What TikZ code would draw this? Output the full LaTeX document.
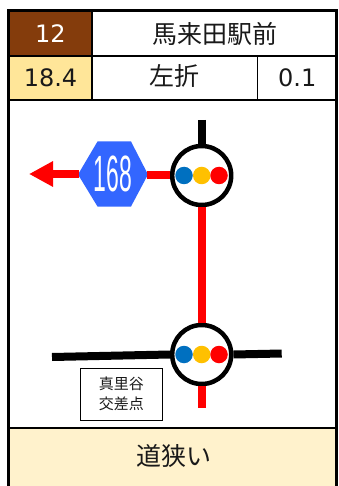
\documentclass[tikz,border=0pt]{standalone}
\usepackage{fontspec}
\setmainfont{DejaVu Sans}
\newfontfamily\jpfont{Noto Sans CJK JP}
\newfontfamily\signfont{Liberation Sans}
\usetikzlibrary{arrows.meta}
\definecolor{cellbrown}{HTML}{843C0C}
\definecolor{cellyellow}{HTML}{FFE699}
\definecolor{cellcream}{HTML}{FFF2CC}
\definecolor{dotblue}{HTML}{0070C0}
\definecolor{dotamber}{HTML}{FFC000}
\definecolor{signblue}{HTML}{3366FF}
\tikzset{
  cell/.style={draw, line width=1.8pt, inner sep=0pt, text=black!90},
  redroad/.style={draw=red, line width=8pt},
  blackroad/.style={draw=black, line width=8pt},
  junction/.style={circle, draw, fill=white, line width=4.5pt, minimum size=59pt, inner sep=0pt},
  dot/.style={circle, minimum size=17.5pt, inner sep=0pt},
}
\begin{document}
\begin{tikzpicture}[x=1pt, y=-1pt]
  \useasboundingbox (0,0) rectangle (338,486);

  % table
  \fill[cellcream] (9,428) rectangle (336,486);
  \node[cell, fill=cellbrown, text=white, font=\fontsize{24}{24}\selectfont, minimum width=83pt, minimum height=45pt] (stopno) at (50.5,33.5) {12};
  \node[cell, font=\fontsize{25}{25}\jpfont, minimum width=245pt, minimum height=45pt] (stopname) at (214.5,33.5) {馬来田駅前};
  \node[cell, fill=cellyellow, font=\fontsize{24}{24}\selectfont, minimum width=83pt, minimum height=43.5pt] (total) at (50.5,78) {18.4};
  \node[cell, font=\fontsize{25}{25}\jpfont, minimum width=165.5pt, minimum height=43.5pt, text height=20pt, text depth=4pt] (turn) at (174.75,78) {左折};
  \node[cell, font=\fontsize{24}{24}\selectfont, minimum width=79.5pt, minimum height=43.5pt] (dist) at (297.25,78) {0.1};
  \node[font=\fontsize{25}{25}\jpfont, text=black!90] (note) at (173.5,456) {道狭い};
  \draw[line width=1.8pt] (9,428) -- (337,428);
  \draw[line width=3pt] (8.7,486) -- (8.7,10.5) -- (336.7,10.5) -- (336.7,486);

  % junctions
  \node[junction] (upper) at (201.7,175.5) {};
  \node[junction] (lower) at (201.7,354.5) {};
  \foreach \j in {upper, lower} {
    \node[dot, fill=dotblue] at ([xshift=-17.7pt]\j.center) {};
    \node[dot, fill=dotamber] at (\j.center) {};
    \node[dot, fill=red] at ([xshift=17.3pt]\j.center) {};
  }

  % route sign
  \filldraw[signblue, draw=none] (78,174.5) -- (97.5,141.5) -- (131,141.5) -- (148,174.5) -- (131,206.5) -- (97.5,206.5) -- cycle;
  \node[text=white, inner sep=0pt] (sign) at (113,174) {\scalebox{0.45}[1]{\fontsize{51}{51}\signfont 168}};
  \coordinate (signwest) at (79,174);
  \coordinate (signeast) at (147,175.5);
  \coordinate (tip) at (29,174);

  % roads
  \coordinate (northend) at (201.7,120);
  \coordinate (southend) at (201.7,408);
  \coordinate (westend) at (52,357);
  \coordinate (eastend) at (281.7,353.5);
  \draw[blackroad] (northend) -- (upper);
  \draw[redroad] (upper) -- (lower);
  \draw[redroad] (lower) -- (southend);
  \draw[redroad] (upper.west) -- (signeast);
  \draw[redroad, -{Triangle[length=24pt, width=24pt]}] (signwest) -- (tip);
  \draw[blackroad] (westend) -- (lower.west);
  \draw[blackroad] (lower.east) -- (eastend);

  % crossing name
  \node[draw, line width=1pt, minimum width=82pt, minimum height=52pt, inner sep=0pt, align=center, font=\fontsize{15}{20}\jpfont, text=black!90] (crossing) at (121.3,394.2) {真里谷\\交差点};
\end{tikzpicture}
\end{document}
